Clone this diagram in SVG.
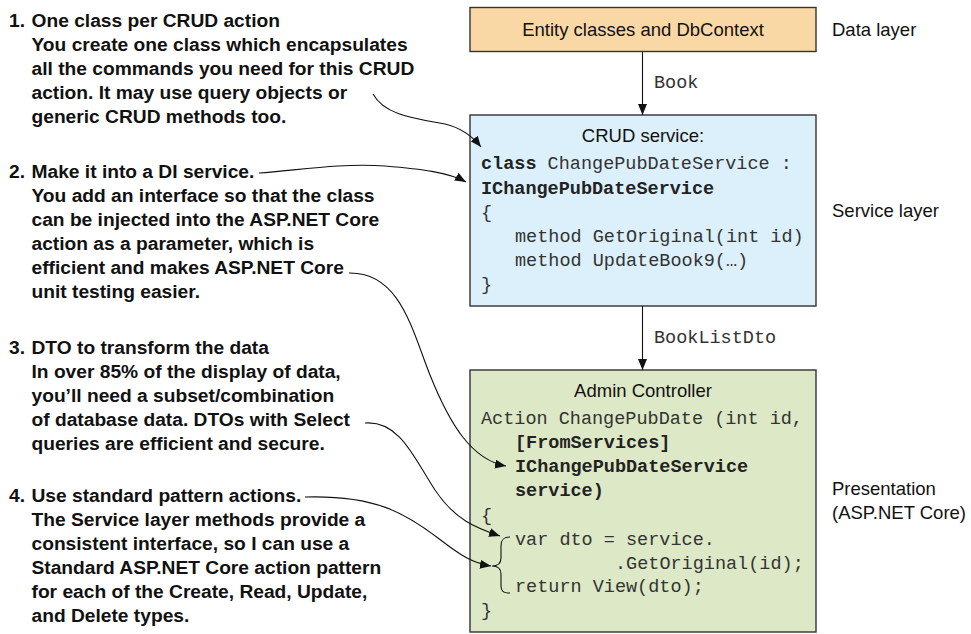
<svg xmlns="http://www.w3.org/2000/svg" width="971" height="634" viewBox="0 0 971 634">
<defs>
<marker id="ah" markerUnits="userSpaceOnUse" markerWidth="12" markerHeight="9" refX="11" refY="4.5" orient="auto">
<path d="M0,0 L11,4.5 L0,9 z" fill="#111"/>
</marker>
<style>
.note{font-family:"Liberation Sans",Arial,sans-serif;font-weight:bold;font-size:19.2px;fill:#111}
.lbl{font-family:"Liberation Sans",Arial,sans-serif;font-size:18.5px;fill:#111}
.mono{font-family:"Liberation Mono","Courier New",monospace;font-size:18.5px;fill:#333}
.b{font-weight:bold;fill:#222}
.box{stroke:#333;stroke-width:1.4}
.con{fill:none;stroke:#111;stroke-width:1.1}
</style>
</defs>
<rect width="971" height="634" fill="#fff"/>

<g id="note1" class="note">
<text x="9" y="27">1.</text>
<text x="31.5" y="27">One class per CRUD action</text>
<text x="31.5" y="51">You create one class which encapsulates</text>
<text x="31.5" y="75">all the commands you need for this CRUD</text>
<text x="31.5" y="99">action. It may use query objects or</text>
<text x="31.5" y="123">generic CRUD methods too.</text>
</g>
<g id="note2" class="note">
<text x="9" y="178">2.</text>
<text x="31.5" y="178">Make it into a DI service.</text>
<text x="31.5" y="202">You add an interface so that the class</text>
<text x="31.5" y="226">can be injected into the ASP.NET Core</text>
<text x="31.5" y="250">action as a parameter, which is</text>
<text x="31.5" y="274">efficient and makes ASP.NET Core</text>
<text x="31.5" y="298">unit testing easier.</text>
</g>
<g id="note3" class="note">
<text x="9" y="354">3.</text>
<text x="31.5" y="354">DTO to transform the data</text>
<text x="31.5" y="378">In over 85% of the display of data,</text>
<text x="31.5" y="402">you’ll need a subset/combination</text>
<text x="31.5" y="426">of database data. DTOs with Select</text>
<text x="31.5" y="450">queries are efficient and secure.</text>
</g>
<g id="note4" class="note">
<text x="9" y="502">4.</text>
<text x="31.5" y="502">Use standard pattern actions.</text>
<text x="31.5" y="526">The Service layer methods provide a</text>
<text x="31.5" y="550">consistent interface, so I can use a</text>
<text x="31.5" y="574">Standard ASP.NET Core action pattern</text>
<text x="31.5" y="598">for each of the Create, Read, Update,</text>
<text x="31.5" y="622">and Delete types.</text>
</g>

<g id="data-layer">
<rect class="box" x="470" y="7.5" width="346" height="44" fill="#FAD8A6"/>
<text class="lbl" x="643" y="35.5" text-anchor="middle">Entity classes and DbContext</text>
<text class="lbl" x="832" y="35.5">Data layer</text>
</g>

<g id="service-layer">
<rect class="box" x="470" y="115" width="346" height="191" fill="#DBF0FB"/>
<text class="lbl" x="643" y="142" text-anchor="middle">CRUD service:</text>
<text class="mono" x="481" y="169"><tspan class="b">class</tspan> ChangePubDateService :</text>
<text class="mono b" x="481" y="193.5">IChangePubDateService</text>
<text class="mono" x="481" y="217.5">{</text>
<text class="mono" x="515" y="241.5">method GetOriginal(int id)</text>
<text class="mono" x="515" y="265.5">method UpdateBook9(…)</text>
<text class="mono" x="481" y="290">}</text>
<text class="lbl" x="832" y="217">Service layer</text>
</g>

<g id="presentation-layer">
<rect class="box" x="470" y="370" width="346" height="262" fill="#DDE8C6"/>
<text class="lbl" x="643" y="397" text-anchor="middle">Admin Controller</text>
<text class="mono" x="481" y="424">Action ChangePubDate (int id,</text>
<text class="mono b" x="515" y="448">[FromServices]</text>
<text class="mono b" x="515" y="472">IChangePubDateService</text>
<text class="mono b" x="515" y="496">service)</text>
<text class="mono" x="481" y="520.5">{</text>
<text class="mono" x="515" y="544.5">var dto = service.</text>
<text class="mono" x="615" y="568.5">.GetOriginal(id);</text>
<text class="mono" x="515" y="592">return View(dto);</text>
<text class="mono" x="481" y="616">}</text>
<path class="con" d="M510,537 C503,537 501,540 501,546 L501,558 C501,563 498,566 492,566 C498,566 501,569 501,574 L501,586 C501,591 503,593 510,593"/>
<text class="lbl" x="832" y="495">Presentation</text>
<text class="lbl" x="832" y="518.5">(ASP.NET Core)</text>
</g>

<g id="connectors">
<line class="con" x1="642.5" y1="51.5" x2="642.5" y2="115" marker-end="url(#ah)"/>
<text class="mono" x="654" y="87.5">Book</text>
<line class="con" x1="642.5" y1="306" x2="642.5" y2="370" marker-end="url(#ah)"/>
<text class="mono" x="654" y="343">BookListDto</text>
<path class="con" d="M373,94 C385,116 418,119 445,124 C462,128 473,137 481,147" marker-end="url(#ah)"/>
<path class="con" d="M259,173 C300,170 340,163 385,166 C420,169 448,172 466,182" marker-end="url(#ah)"/>
<path class="con" d="M349,273 C400,272 412,330 430,375 C450,425 472,460 506,466" marker-end="url(#ah)"/>
<path class="con" d="M365,423 C400,420 415,460 435,490 C455,520 476,528 500,536" marker-end="url(#ah)"/>
<path class="con" d="M305,497 C375,495 405,513 438,538 C460,555 472,563 491,566" marker-end="url(#ah)"/>
</g>
</svg>
